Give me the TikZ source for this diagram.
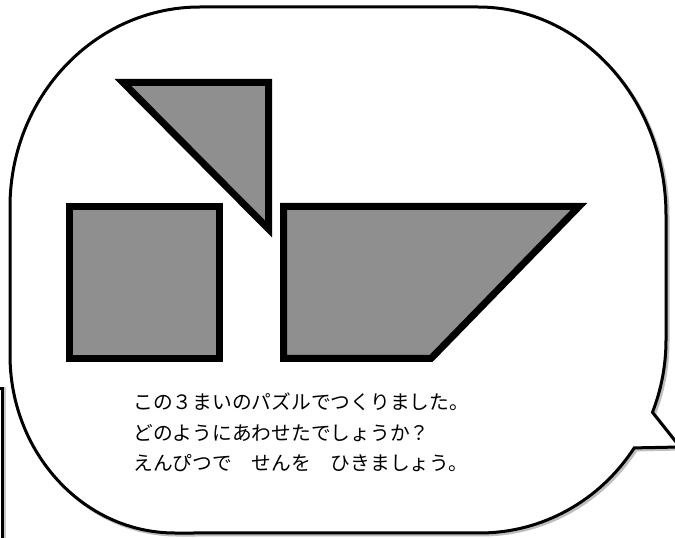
\documentclass[tikz,border=0pt]{standalone}
\usepackage{fontspec}
\newfontfamily\jpfont{Noto Sans CJK JP}

\tikzset{every picture/.style={line width=0.75pt}}
\tikzset{
  piece/.style={line width=5.25pt, fill={rgb, 255:red, 143; green, 143; blue, 143 }},
  bubble/.style={line width=2.25pt, fill=white,
    preaction={draw, line width=2.25pt, draw={rgb, 255:red, 190; green, 190; blue, 190 }, transform canvas={shift={(1.5pt,-1.5pt)}}}},
  msg/.style={anchor=west, inner sep=0pt, font=\jpfont\fontsize{14.8}{20}\selectfont}
}

\begin{document}
\begin{tikzpicture}[x=0.75pt,y=0.75pt,yscale=-1,xscale=1]
		\useasboundingbox (0,0) rectangle (675,538);
		\clip (0,0) rectangle (675,538);
		
		%Shape: edge of the box on the left
		\draw [line width=2.25pt, preaction={draw, line width=2.25pt, draw={rgb, 255:red, 200; green, 200; blue, 200 }, transform canvas={shift={(2pt,0pt)}}}] (-10,389) -- (2,389) -- (2,545) ;
		
		%Shape: speech bubble
		\draw [bubble] (10,207) arc [start angle=180, end angle=270, x radius=190, y radius=200] -- (478,7) arc [start angle=270, end angle=360, x radius=188, y radius=208] -- (666,340) arc [start angle=0, end angle=22, x radius=186, y radius=193] -- (680,447) -- (634.2,447.9) arc [start angle=34, end angle=90, x radius=186, y radius=193] -- (175,533) arc [start angle=90, end angle=180, x radius=165, y radius=178] -- cycle ;
		
		%Shape: Triangle
		\draw [piece] (123,82.5) -- (268.5,82.5) -- (268.5,229) -- cycle ;
		%Shape: Square
		\draw [piece] (69.5,206.5) -- (219.5,206.5) -- (219.5,358.5) -- (69.5,358.5) -- cycle ;
		%Shape: Trapezoid
		\draw [piece] (283.5,206.5) -- (579,206.5) -- (431,358.5) -- (283.5,358.5) -- cycle ;
		
		\node [msg] (line1) at (133,402) {この３まいのパズルでつくりました。};
		\node [msg] (line2) at (133,433) {どのようにあわせたでしょうか？};
		\node [msg] (line3) at (133,463) {えんぴつで　せんを　ひきましょう。};
		
\end{tikzpicture}
\end{document}
